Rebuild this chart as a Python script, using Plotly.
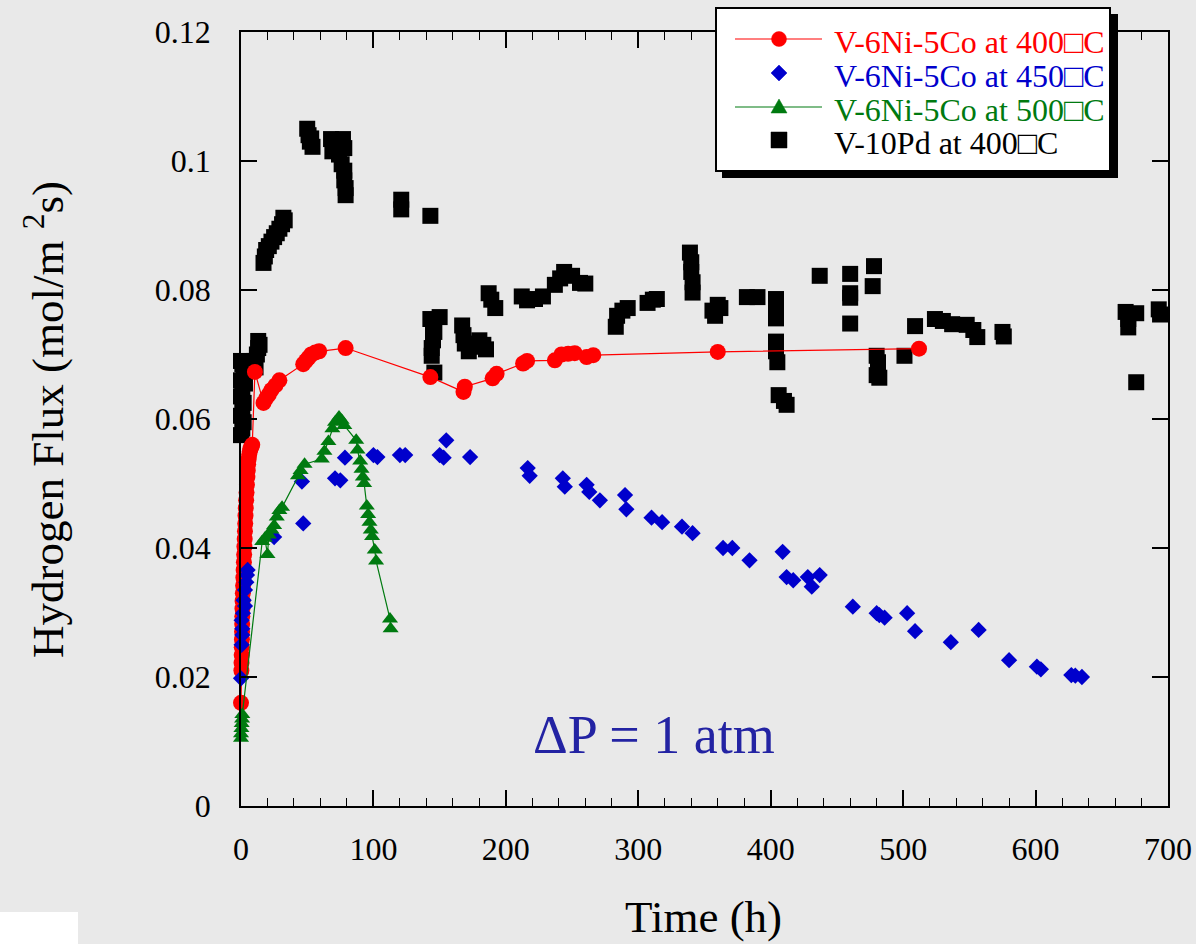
import plotly.graph_objects as go

# ---------------- data ----------------
red_t = [0, 0.3, 0.4, 0.5, 0.6, 0.7, 0.8, 0.9, 1.0, 1.1, 1.2, 1.4, 1.6, 1.8, 2.0,
         2.2, 2.4, 2.6, 2.8, 3.0, 3.2, 3.4, 3.6, 3.9, 4.2, 4.5, 4.8, 5.1, 5.4,
         5.8, 6.2, 6.7, 7.2, 7.8, 8.5,
         10.5, 17, 19, 21, 23, 26, 29, 47, 49, 51, 53, 56, 59, 79, 143, 168, 169,
         190, 193, 213, 216, 237, 242, 247, 252, 261, 266, 360, 512]
red_f = [0.0160, 0.0210, 0.0222, 0.0234, 0.0246, 0.0258, 0.0270, 0.0282, 0.0294,
         0.0306, 0.0318, 0.0330, 0.0342, 0.0354, 0.0366, 0.0378, 0.0390, 0.0402,
         0.0414, 0.0426, 0.0438, 0.0450, 0.0462, 0.0474, 0.0486, 0.0498, 0.0510,
         0.0520, 0.0530, 0.0538, 0.0545, 0.0550, 0.0554, 0.0557, 0.0560,
         0.0673, 0.0625, 0.0632, 0.0638, 0.0645, 0.0652, 0.0660, 0.0685, 0.0690,
         0.0695, 0.0700, 0.0703, 0.0705, 0.0710, 0.0665, 0.0642, 0.0650,
         0.0663, 0.0670, 0.0686, 0.0690, 0.0691, 0.0700, 0.0701, 0.0702, 0.0696,
         0.0699, 0.0704, 0.0709]

blue_t = [0, 0.5, 1, 0.5, 1.5, 2, 3, 4, 5, 4.5, 3, 1,
          25, 46, 47, 71, 75, 78.5, 100, 103, 120, 124, 150, 153, 155, 173,
          216.5, 218, 243, 244.5, 261, 263, 271, 290, 291, 310, 318, 333, 341,
          364, 371, 384, 409, 412, 417, 428, 431, 437, 462, 480, 482, 486, 503,
          509, 536, 557, 580, 601, 604, 627, 630, 635]
blue_f = [0.0198, 0.0250, 0.0265, 0.0288, 0.0299, 0.0319, 0.0335, 0.0347, 0.0366,
          0.0358, 0.0310, 0.0275,
          0.0417, 0.0503, 0.0438, 0.0508, 0.0505, 0.0540, 0.0544, 0.0541, 0.0544,
          0.0544, 0.0544, 0.0540, 0.0567, 0.0541,
          0.0524, 0.0512, 0.0508, 0.0495, 0.0498, 0.0487, 0.0474, 0.0482, 0.0460,
          0.0447, 0.0440, 0.0433, 0.0423, 0.0400, 0.0400, 0.0381, 0.0394, 0.0355,
          0.0350, 0.0355, 0.0340, 0.0358, 0.0309, 0.0299, 0.0296, 0.0292, 0.0299,
          0.0271, 0.0254, 0.0273, 0.0226, 0.0216, 0.0212, 0.0203, 0.0202, 0.0200]

green_t = [0, 0, 0.3, 0.5, 0.8, 1, 16, 18, 20, 21, 23, 25, 27, 29, 31, 43, 45, 48,
           61, 63, 66, 69, 71, 74, 76, 78, 87, 88, 90, 91, 92, 93, 95, 96, 97, 98,
           99, 101, 102, 112.5, 113]
green_f = [0.0105, 0.0112, 0.0120, 0.0128, 0.0135, 0.0142, 0.0410, 0.0415, 0.0390,
           0.0420, 0.0428, 0.0435, 0.0448, 0.0458, 0.0463, 0.0512, 0.0520, 0.0530,
           0.0538, 0.0550, 0.0565, 0.0585, 0.0595, 0.0603, 0.0598, 0.0590, 0.0567,
           0.0552, 0.0535, 0.0522, 0.0510, 0.0500, 0.0465, 0.0452, 0.0440, 0.0428,
           0.0418, 0.0397, 0.0380, 0.0290, 0.0275]

black_t = [0, 1, 2, 0, 1, 2, 0, 1, 3, 0, 2, 4, 0, 1, 10, 12, 13, 13, 14, 11,
           17, 18, 19, 21, 23, 25, 27, 29, 31, 33, 32,
           50, 51, 52, 54, 53,
           68, 70, 73, 77, 69, 74, 78, 76, 78, 78, 79, 79,
           121, 121, 143,
           143, 145, 146, 145, 144, 144, 146, 150,
           167, 168, 169, 172, 177, 180, 183, 185,
           187, 189, 192, 212, 216, 222, 228,
           237, 241, 244, 250, 256, 260,
           283, 284, 288, 292, 307, 311, 314,
           339, 340, 340, 341, 341, 356, 358, 360, 362, 382, 390,
           404, 404, 404, 404, 404, 405, 406, 410, 412,
           437, 460, 460, 460, 460, 478, 477,
           480, 481, 481, 480, 482, 501, 509, 524, 530, 537, 548, 553, 556,
           575, 576, 668, 670, 670, 676, 676, 693, 694]
black_f = [0.0575, 0.0585, 0.0595, 0.0605, 0.0615, 0.0625, 0.0635, 0.0645, 0.0655,
           0.0660, 0.0668, 0.0675, 0.0690, 0.0685, 0.0690, 0.0700, 0.0710, 0.0721,
           0.0715, 0.0680,
           0.0842, 0.0852, 0.0862, 0.0868, 0.0875, 0.0882, 0.0888, 0.0895, 0.0902,
           0.0908, 0.0912,
           0.1050, 0.1040, 0.1030, 0.1022, 0.1035,
           0.1034, 0.1025, 0.1030, 0.1034, 0.1015, 0.1010, 0.1020, 0.0995, 0.0985,
           0.0970, 0.0958, 0.0947,
           0.0940, 0.0925, 0.0915,
           0.0755, 0.0745, 0.0735, 0.0722, 0.0710, 0.0698, 0.0672, 0.0758,
           0.0745, 0.0730, 0.0717, 0.0705, 0.0712, 0.0722, 0.0715, 0.0708,
           0.0795, 0.0785, 0.0772, 0.0790, 0.0784, 0.0786, 0.0790,
           0.0808, 0.0818, 0.0828, 0.0822, 0.0811, 0.0810,
           0.0743, 0.0760, 0.0768, 0.0772, 0.0780, 0.0785, 0.0786,
           0.0858, 0.0843, 0.0828, 0.0812, 0.0796, 0.0768, 0.0760, 0.0777, 0.0772,
           0.0789, 0.0789,
           0.0786, 0.0770, 0.0756, 0.0720, 0.0705, 0.0688, 0.0637, 0.0628, 0.0622,
           0.0822, 0.0825, 0.0795, 0.0788, 0.0748, 0.0837, 0.0806,
           0.0698, 0.0688, 0.0676, 0.0668, 0.0664, 0.0698, 0.0744, 0.0755, 0.0752,
           0.0747, 0.0746, 0.0738, 0.0727,
           0.0735, 0.0728, 0.0766, 0.0755, 0.0742, 0.0764, 0.0657, 0.0770, 0.0762]

series_names = ["V-6Ni-5Co at 400\u25a1C", "V-6Ni-5Co at 450\u25a1C",
                "V-6Ni-5Co at 500\u25a1C", "V-10Pd at 400\u25a1C"]
series_colors = ["#ff0000", "#0000cc", "#007a10", "#000000"]
x_ticks = [0, 100, 200, 300, 400, 500, 600, 700]
x_labels = ["0", "100", "200", "300", "400", "500", "600", "700"]
y_ticks = [0, 0.02, 0.04, 0.06, 0.08, 0.1, 0.12]
y_labels = ["0", "0.02", "0.04", "0.06", "0.08", "0.1", "0.12"]

# ---------------- figure ----------------
SERIF = "Liberation Serif"
BG = "#e9e9e9"
RED, BLUE, GREEN, BLACK = series_colors

fig = go.Figure()

fig.add_trace(go.Scatter(
    x=black_t, y=black_f, mode="markers", name=series_names[3],
    marker=dict(symbol="square", size=16, color=BLACK), cliponaxis=False))
fig.add_trace(go.Scatter(
    x=red_t, y=red_f, mode="lines+markers", name=series_names[0],
    line=dict(color=RED, width=1.2),
    marker=dict(symbol="circle", size=16, color=RED), cliponaxis=False))
fig.add_trace(go.Scatter(
    x=blue_t, y=blue_f, mode="markers", name=series_names[1],
    marker=dict(symbol="diamond", size=12.5, color=BLUE), cliponaxis=False))
fig.add_trace(go.Scatter(
    x=green_t, y=green_f, mode="lines+markers", name=series_names[2],
    line=dict(color=GREEN, width=1.2),
    marker=dict(symbol="triangle-up", size=14, color=GREEN), cliponaxis=False))

axis_common = dict(
    showgrid=False, zeroline=False, showline=True, linecolor="black", linewidth=1.5,
    ticks="inside", ticklen=16, tickwidth=1.5, tickcolor="black", mirror="ticks",
    tickfont=dict(family=SERIF, size=32, color="black"),
)

fig.update_xaxes(range=[0, 700], tickvals=x_ticks, ticktext=x_labels,
                 minor=dict(ticks="inside", ticklen=8, dtick=20, tickwidth=1.2,
                            tickcolor="black"),
                 ticklabelstandoff=14, **axis_common)
fig.update_yaxes(range=[0, 0.12], tickvals=y_ticks, ticktext=y_labels,
                 ticklabelstandoff=22, **axis_common)

W, H = 1196, 944
L, R, T, B = 241, 28, 32, 138
pw, ph = W - L - R, H - T - B


def px(xp):
    return (xp - L) / pw


def py(yp):
    return (H - B - yp) / ph


# ---------------- hand-drawn legend box (as in the original) ----------------
shapes = [
    dict(type="rect", xref="paper", yref="paper",
         x0=px(722), x1=px(1118), y0=py(178), y1=py(14),
         fillcolor="black", line=dict(width=0), layer="above"),
    dict(type="rect", xref="paper", yref="paper",
         x0=px(716), x1=px(1110), y0=py(171), y1=py(8),
         fillcolor="white", line=dict(color="black", width=2), layer="above"),
    dict(type="rect", xref="paper", yref="paper",
         x0=px(0), x1=px(78), y0=py(944), y1=py(912),
         fillcolor="white", line=dict(width=0), layer="below"),
]
annotations = []

key_x0, key_x1, key_cx = 735, 822, 779
row_sym_y = [39, 73, 107, 140]
row_txt_y = [42, 76, 110, 143]


def seg(x0, y0, x1, y1, color):
    return dict(type="line", xref="paper", yref="paper",
                x0=px(x0), y0=py(y0), x1=px(x1), y1=py(y1),
                line=dict(color=color, width=1.2), layer="above")


def poly(points, color):
    path = "M " + " L ".join("%.5f,%.5f" % (px(a), py(b)) for a, b in points) + " Z"
    return dict(type="path", xref="paper", yref="paper", path=path,
                fillcolor=color, line=dict(color=color, width=0.5), layer="above")


# row 1: red line + circle
y = row_sym_y[0]
shapes.append(seg(key_x0, y, key_x1, y, RED))
shapes.append(dict(type="circle", xref="paper", yref="paper",
                   x0=px(key_cx - 7.5), x1=px(key_cx + 7.5),
                   y0=py(y + 7.5), y1=py(y - 7.5),
                   fillcolor=RED, line=dict(color=RED, width=0.5), layer="above"))
# row 2: blue diamond
y = row_sym_y[1]
shapes.append(poly([(key_cx, y - 8), (key_cx + 8, y), (key_cx, y + 8), (key_cx - 8, y)], BLUE))
# row 3: green line + triangle
y = row_sym_y[2]
shapes.append(seg(key_x0, y, key_x1, y, GREEN))
shapes.append(poly([(key_cx, y - 8), (key_cx + 8, y + 6), (key_cx - 8, y + 6)], GREEN))
# row 4: black square
y = row_sym_y[3]
shapes.append(poly([(key_cx - 8, y - 8), (key_cx + 8, y - 8), (key_cx + 8, y + 8),
                    (key_cx - 8, y + 8)], BLACK))

for name, color, ty in zip(series_names, series_colors, row_txt_y):
    annotations.append(dict(text=name, xref="paper", yref="paper", x=px(832), y=py(ty),
                            xanchor="left", yanchor="middle", showarrow=False,
                            font=dict(family=SERIF, size=32, color=color)))

annotations += [
    dict(text="Time (h)", xref="paper", yref="paper", x=px(703), y=py(917),
         showarrow=False, font=dict(family=SERIF, size=45, color="black"),
         xanchor="center", yanchor="middle"),
    dict(text="Hydrogen Flux (mol/m <sup>2</sup>s)", xref="paper", yref="paper",
         x=px(45), y=py(420), textangle=-90, showarrow=False,
         font=dict(family=SERIF, size=45, color="black"),
         xanchor="center", yanchor="middle"),
    dict(text="\u0394P = 1 atm", xref="paper", yref="paper", x=px(654), y=py(735),
         showarrow=False, font=dict(family=SERIF, size=54, color="#2323a3"),
         xanchor="center", yanchor="middle"),
]

fig.update_layout(
    width=W, height=H,
    margin=dict(l=L, r=R, t=T, b=B, autoexpand=False),
    paper_bgcolor=BG, plot_bgcolor=BG,
    showlegend=False,
    shapes=shapes,
    annotations=annotations,
)

fig.write_html("out.html")
